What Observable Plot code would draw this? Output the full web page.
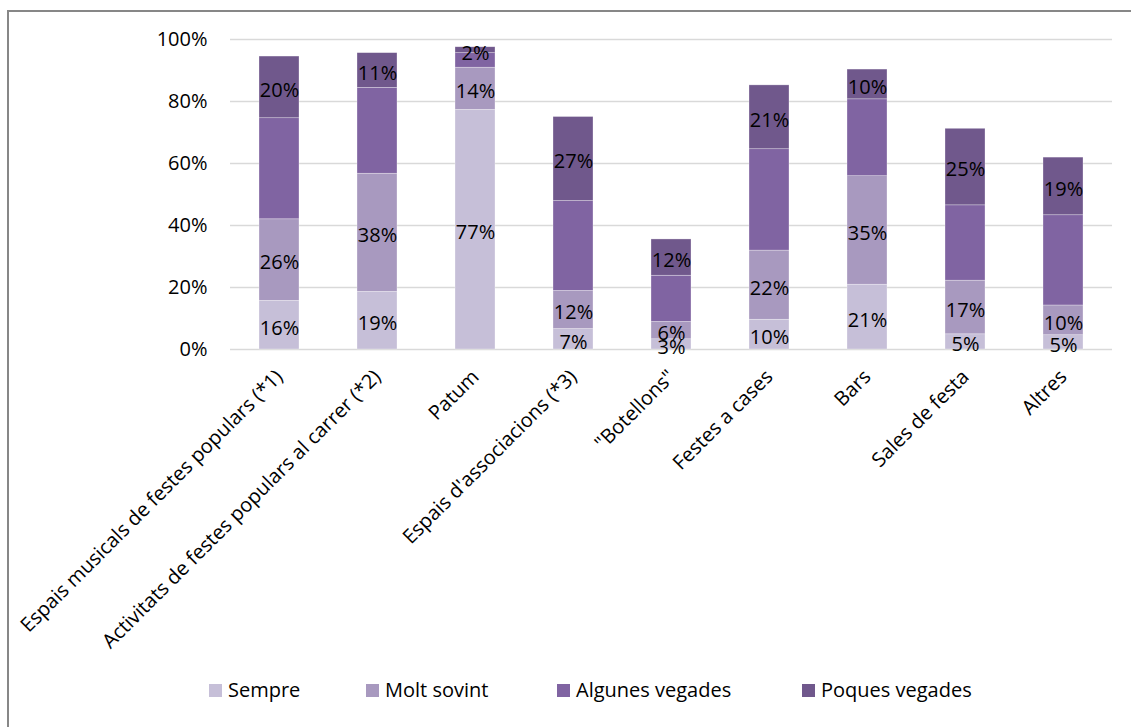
<!DOCTYPE html>
<html>
<head>
<meta charset="utf-8">
<script src="https://cdn.jsdelivr.net/npm/d3@7"></script>
<script src="https://cdn.jsdelivr.net/npm/@observablehq/plot@0.6"></script>
<style>
  html, body { margin: 0; padding: 0; background: #fff; overflow: hidden; width: 1131px; height: 727px; }
  #frame { position: absolute; left: 7px; top: 10px; width: 2000px; height: 2000px;
           border-left: 2px solid #878787; border-top: 2px solid #878787; box-sizing: border-box; }
  #chart { position: absolute; left: 0; top: 0; }
  .leg { position: absolute; font-family: "Open Sans", "Noto Sans", sans-serif; font-size: 20px; color: #000; white-space: nowrap; }
  .sw { position: absolute; width: 13px; height: 13px; }
</style>
</head>
<body>
<div id="frame"></div>
<div id="chart"></div>
<div id="legend"></div>
<script>
const categories = [
  "Espais musicals de festes populars (*1)",
  "Activitats de festes populars al carrer (*2)",
  "Patum",
  "Espais d'associacions (*3)",
  "\"Botellons\"",
  "Festes a cases",
  "Bars",
  "Sales de festa",
  "Altres"
];
const seriesNames = ["Sempre", "Molt sovint", "Algunes vegades", "Poques vegades"];
const seriesColors = ["#c6bfd8", "#a899bf", "#8064a2", "#70588c"];
const sempre     = [15.7, 18.6, 77.3, 6.6, 3.3, 9.6, 20.9, 4.9, 4.6];
const moltSovint = [26.3, 38.1, 13.6, 12.3, 5.6, 22.3, 35.0, 17.3, 9.6];
const algunes    = [32.6, 27.7, 4.7, 29.0, 14.9, 32.7, 24.8, 24.3, 29.1];
const poques     = [19.9, 11.2, 1.9, 27.1, 11.7, 20.6, 9.6, 24.7, 18.6];
const labelled   = [true, true, false, true]; // Algunes vegades segments carry no label
const yTicks = [0, 20, 40, 60, 80, 100];

const seriesValues = [sempre, moltSovint, algunes, poques];
const data = [];
categories.forEach((c, i) => {
  seriesNames.forEach((s, k) => {
    data.push({cat: c, series: s, value: seriesValues[k][i], show: labelled[k]});
  });
});

const font = "'Open Sans', 'Noto Sans', sans-serif";

const chart = Plot.plot({
  width: 1131,
  height: 660,
  marginTop: 39,
  marginBottom: 311,
  marginLeft: 230,
  marginRight: 19,
  style: {fontFamily: font, fontSize: "20px", color: "#000", background: "transparent"},
  x: {domain: categories, paddingInner: 0.59, paddingOuter: 0.295, axis: null},
  y: {domain: [0, 100], axis: null},
  color: {domain: seriesNames, range: seriesColors},
  marks: [
    Plot.ruleY(yTicks, {stroke: "#d9d9d9", strokeWidth: 1.5}),
    Plot.axisY({ticks: yTicks, tickFormat: d => d + "%", label: null, tickSize: 0, tickPadding: 23, fontSize: 20}),
    Plot.axisX({label: null, tickSize: 0, tickPadding: 10, tickRotate: -45, fontSize: 20, dx: 0, dy: 14}),
    Plot.barY(data, {x: "cat", y: "value", fill: "series", z: "series", stroke: "#ffffff", strokeWidth: 0.6, strokeOpacity: 0.5}),
    Plot.text(data, Plot.stackY({
      x: "cat", y: "value", z: "series",
      text: d => d.show ? Math.round(d.value) + "%" : "",
      fill: "#000", fontSize: 20, dy: 3
    }))
  ]
});
document.getElementById("chart").appendChild(chart);

const legendX = [209, 366, 557, 802];
const legend = document.getElementById("legend");
seriesNames.forEach((s, k) => {
  const sw = document.createElement("div");
  sw.className = "sw";
  sw.style.left = legendX[k] + "px";
  sw.style.top = "684px";
  sw.style.background = seriesColors[k];
  legend.appendChild(sw);
  const t = document.createElement("div");
  t.className = "leg";
  t.textContent = s;
  t.style.left = (legendX[k] + 19) + "px";
  t.style.top = "676px";
  t.style.lineHeight = "28px";
  legend.appendChild(t);
});
</script>
</body>
</html>
